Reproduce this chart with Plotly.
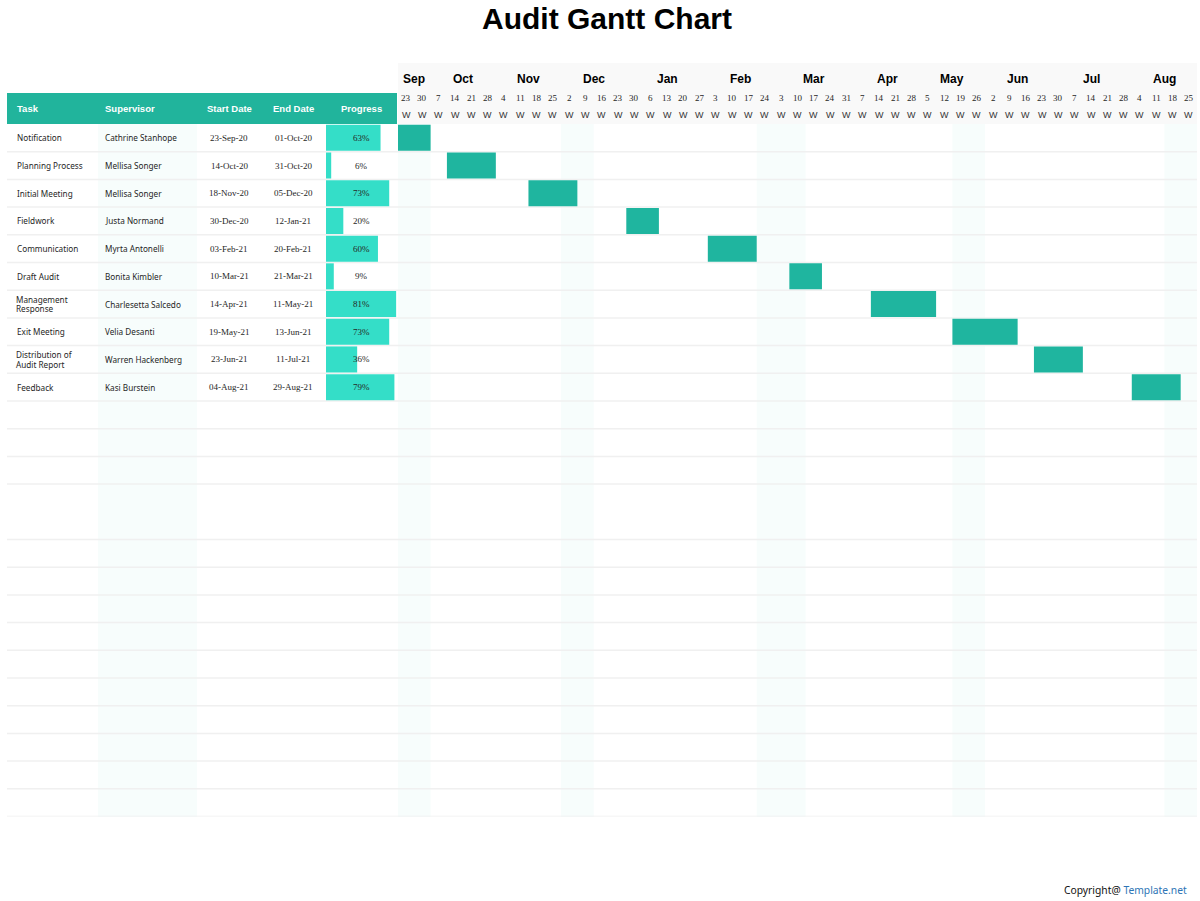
import datetime as dt
import plotly.graph_objects as go

# ---------------- data ----------------
tasks = ["Notification", "Planning Process", "Initial Meeting", "Fieldwork", "Communication",
         "Draft Audit", "Management\nResponse", "Exit Meeting", "Distribution of\nAudit Report", "Feedback"]
supervisors = ["Cathrine Stanhope", "Mellisa Songer", "Mellisa Songer", "Justa Normand", "Myrta Antonelli",
               "Bonita Kimbler", "Charlesetta Salcedo", "Velia Desanti", "Warren Hackenberg", "Kasi Burstein"]
start_dates = ["2020-09-23", "2020-10-14", "2020-11-18", "2020-12-30", "2021-02-03",
               "2021-03-10", "2021-04-14", "2021-05-19", "2021-06-23", "2021-08-04"]
end_dates = ["2020-10-01", "2020-10-31", "2020-12-05", "2021-01-12", "2021-02-20",
             "2021-03-21", "2021-05-11", "2021-06-13", "2021-07-11", "2021-08-29"]
progress = [63, 6, 73, 20, 60, 9, 81, 73, 36, 79]

header_cols = ["Task", "Supervisor", "Start Date", "End Date", "Progress"]
month_labels = ["Sep", "Oct", "Nov", "Dec", "Jan", "Feb", "Mar", "Apr", "May", "Jun", "Jul", "Aug"]
month_spans = [2, 4, 4, 4, 5, 4, 5, 4, 4, 4, 5, 4]
week_days = [23, 30, 7, 14, 21, 28, 4, 11, 18, 25, 2, 9, 16, 23, 30, 6, 13, 20, 27, 3, 10, 17, 24,
             3, 10, 17, 24, 31, 7, 14, 21, 28, 5, 12, 19, 26, 2, 9, 16, 23, 30, 7, 14, 21, 28, 4, 11, 18, 25]
timeline_origin = "2020-09-23"
n_rows = 25

# ---------------- helpers ----------------
W, H = 1200, 901
def px(p):
    return p / W
def py(p):
    return 1 - p / H

n_weeks = len(week_days)
origin = dt.date.fromisoformat(timeline_origin)

def fmt(d):
    d = dt.date.fromisoformat(d)
    return d.strftime("%d-%b-%y")

first_week, week_count = [], []
for s, e in zip(start_dates, end_dates):
    si = -(-(dt.date.fromisoformat(s) - origin).days // 7)
    ei = (dt.date.fromisoformat(e) - origin).days // 7
    ei = min(ei, n_weeks - 2)  # shading range of the sheet stops before the last column
    first_week.append(si)
    week_count.append(ei - si + 1)

rows_y = [i + 0.5 for i in range(len(tasks))]

TEAL = "#21B49C"
BAR = "#1FB59F"
PROG = "#34DEC8"
TXT = "#262626"

fig = go.Figure()
fig.add_trace(go.Bar(orientation="h", y=rows_y, base=first_week, x=week_count, width=0.94,
                     marker=dict(color=BAR, line=dict(width=0)), xaxis="x", yaxis="y",
                     hoverinfo="skip"))
fig.add_trace(go.Bar(orientation="h", y=rows_y, base=[0] * len(progress), x=progress, width=0.94,
                     marker=dict(color=PROG, line=dict(width=0)), xaxis="x2", yaxis="y",
                     hoverinfo="skip"))

BAND = "#F7FDFC"
shapes = []
# faint column bands
shapes.append(dict(type="rect", xref="paper", yref="paper", x0=px(98), x1=px(197),
                   y0=py(817), y1=py(124), fillcolor=BAND, line_width=0, layer="below"))
for w0, w1 in [(0, 2), (10, 12), (22, 25), (34, 36), (47, 49)]:
    shapes.append(dict(type="rect", xref="x", yref="paper", x0=w0, x1=w1,
                       y0=py(817), y1=py(124), fillcolor=BAND, line_width=0, layer="below"))
# timeline header background
shapes.append(dict(type="rect", xref="x", yref="paper", x0=0, x1=n_weeks, y0=py(124), y1=py(63),
                   fillcolor="#F9F9F9", line_width=0, layer="below"))
# table header
shapes.append(dict(type="rect", xref="paper", yref="paper", x0=px(7), x1=px(397), y0=py(124), y1=py(93),
                   fillcolor=TEAL, line_width=0, layer="below"))
# row separators
for k in range(1, n_rows + 1):
    if k == 14:
        continue
    shapes.append(dict(type="line", xref="paper", yref="y", x0=px(7), x1=px(1197), y0=k, y1=k,
                       line=dict(color="#F0F0F0", width=1.5), layer="below"))

ann = []
ann.append(dict(text="<b>Audit Gantt Chart</b>", x=px(607), y=py(18), xref="paper", yref="paper",
                showarrow=False, font=dict(family="Liberation Sans", size=30, color="#000"),
                xanchor="center", yanchor="middle"))
# header text
hx = [(15, "left"), (103, "left"), (229, "center"), (293, "center"), (361, "center")]
for (x, anc), t in zip(hx, header_cols):
    ann.append(dict(text="<b>%s</b>" % t, x=px(x), y=py(109), xref="paper", yref="paper", showarrow=False,
                    xanchor=anc, yanchor="middle",
                    font=dict(family="Liberation Sans", size=9.5, color="white")))
sans = dict(family="Noto Sans", size=8.2, color=TXT)
serif = dict(family="Liberation Serif", size=9, color=TXT)
for i, (t, s, a, b, p) in enumerate(zip(tasks, supervisors, start_dates, end_dates, progress)):
    yc = rows_y[i]
    lines = t.split("\n")
    if len(lines) == 1:
        ann.append(dict(text=t, x=px(15), y=yc, xref="paper", yref="y", showarrow=False,
                        xanchor="left", yanchor="middle", font=sans))
    else:
        for j, ln in enumerate(lines):
            ann.append(dict(text=ln, x=px(15), y=yc - 0.17 + 0.34 * j, xref="paper", yref="y",
                            showarrow=False, xanchor="left", yanchor="middle", borderpad=0,
                            font=sans))
    ann.append(dict(text=s, x=px(103), y=yc, xref="paper", yref="y", showarrow=False,
                    xanchor="left", yanchor="middle", font=sans))
    ann.append(dict(text=fmt(a), x=px(229), y=yc, xref="paper", yref="y", showarrow=False,
                    xanchor="center", yanchor="middle", font=serif))
    ann.append(dict(text=fmt(b), x=px(293), y=yc, xref="paper", yref="y", showarrow=False,
                    xanchor="center", yanchor="middle", font=serif))
    ann.append(dict(text="%d%%" % p, x=px(361), y=yc, xref="paper", yref="y", showarrow=False,
                    xanchor="center", yanchor="middle", font=serif))
# timeline header labels
pos = 0
for m, span in zip(month_labels, month_spans):
    ann.append(dict(text="<b>%s</b>" % m, x=pos + span / 2, y=py(79), xref="x", yref="paper",
                    showarrow=False, xanchor="center", yanchor="middle",
                    font=dict(family="Liberation Sans", size=12, color="#000")))
    pos += span
for i, d in enumerate(week_days):
    ann.append(dict(text=str(d), x=i + 0.5, y=py(98), xref="x", yref="paper", showarrow=False,
                    xanchor="center", yanchor="middle",
                    font=dict(family="Liberation Serif", size=9, color=TXT)))
    ann.append(dict(text="W", x=i + 0.5, y=py(115), xref="x", yref="paper", showarrow=False,
                    xanchor="center", yanchor="middle",
                    font=dict(family="Liberation Sans", size=9, color="#333")))
ann.append(dict(text="Copyright@ <span style='color:#2E75B6'>Template.net</span>", x=px(1189), y=py(890),
                xref="paper", yref="paper", showarrow=False, xanchor="right", yanchor="middle",
                font=dict(family="Noto Sans", size=10.3, color="#111")))

fig.update_layout(
    width=W, height=H, margin=dict(l=0, r=0, t=0, b=0),
    paper_bgcolor="white", plot_bgcolor="rgba(0,0,0,0)",
    showlegend=False, barmode="overlay",
    xaxis=dict(domain=[px(398), px(1197)], range=[0, n_weeks], visible=False, fixedrange=True),
    xaxis2=dict(domain=[px(326), px(397)], range=[0, 82], visible=False, anchor="y", fixedrange=True),
    yaxis=dict(domain=[py(816.5), py(124)], range=[n_rows, 0], visible=False, fixedrange=True),
    shapes=shapes, annotations=ann,
)
fig.write_html("out.html")
